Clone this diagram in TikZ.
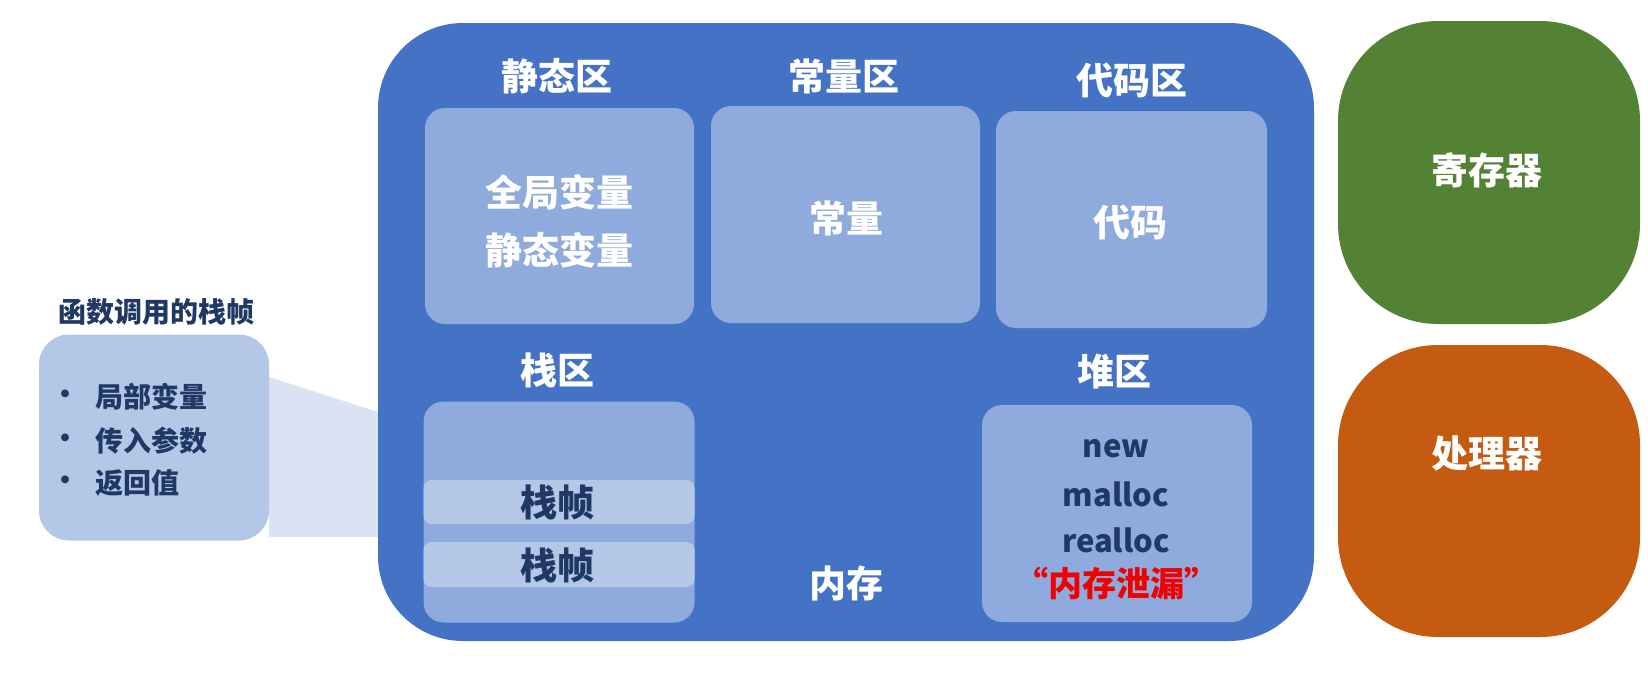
\documentclass[tikz,border=0pt]{standalone}
\usepackage{fontspec}
\setmainfont{Noto Sans CJK SC}
\definecolor{mainblue}{HTML}{4472C4}
\definecolor{subblue}{HTML}{8FAADC}
\definecolor{frameblue}{HTML}{B4C7E7}
\definecolor{wedgeblue}{HTML}{DAE3F3}
\definecolor{navy}{HTML}{1F3864}
\definecolor{reggreen}{HTML}{548235}
\definecolor{procorange}{HTML}{C55A11}
\definecolor{leakred}{HTML}{F00000}
\tikzset{
  subbox/.style={fill=subblue, draw=none, rounded corners=20pt, inner sep=0pt},
  framebox/.style={fill=frameblue, draw=none, rounded corners=8pt, inner sep=0pt},
  bigtxt/.style={text=white, font=\fontsize{37}{58}\selectfont\bfseries, align=center},
  navytxt/.style={text=navy, font=\fontsize{37}{44}\selectfont\bfseries},
  latintxt/.style={text=navy, font=\fontsize{31}{40}\selectfont\bfseries},
  smalltxt/.style={text=navy, font=\fontsize{28}{34}\selectfont\bfseries},
}
\begin{document}
\begin{tikzpicture}[x=1pt,y=-1pt]
\useasboundingbox[fill=white] (0,0) rectangle (1648,678);
% callout wedge
\coordinate (w1) at (269,377);
\coordinate (w2) at (378,412);
\coordinate (w3) at (378,537);
\coordinate (w4) at (269,537);
\fill[wedgeblue] (w1) -- (w2) -- (w3) -- (w4) -- cycle;
% main memory box
\node[fill=mainblue, rounded corners=85pt, minimum width=936pt, minimum height=618pt, inner sep=0pt] (mem) at (846,332) {};
% sub boxes
\node[subbox, minimum width=269pt, minimum height=216pt] (static) at (559.5,216) {};
\node[subbox, minimum width=269pt, minimum height=217pt] (const) at (845.5,214.5) {};
\node[subbox, minimum width=271pt, minimum height=217pt] (code) at (1131.5,219.5) {};
\node[subbox, minimum width=271pt, minimum height=221pt] (stack) at (559,512) {};
\node[framebox, minimum width=271pt, minimum height=44pt] (frameA) at (559,502) {};
\node[framebox, minimum width=271pt, minimum height=45pt] (frameB) at (559,564.5) {};
\node[subbox, minimum width=270pt, minimum height=217pt] (heap) at (1117,513.5) {};
% titles
\node[bigtxt] (tstatic) at (557,76) {静态区};
\node[bigtxt] (tconst) at (844,76) {常量区};
\node[bigtxt] (tcode) at (1132,80) {代码区};
\node[bigtxt] (tstack) at (557,370) {栈区};
\node[bigtxt] (theap) at (1114,372) {堆区};
\node[bigtxt] (tmem) at (846,583) {内存};
% contents
\node[bigtxt] (cstatic) at (559,221) {全局变量\\静态变量};
\node[bigtxt] (cconst) at (846,218) {常量};
\node[bigtxt] (ccode) at (1130,222) {代码};
\node[navytxt] (fA) at (557,502) {栈帧};
\node[navytxt] (fB) at (557,565) {栈帧};
\node[latintxt] (hnew) at (1116,449) {new};
\node[latintxt] (hmalloc) at (1116,494) {malloc};
\node[latintxt] (hrealloc) at (1116,540) {realloc};
\node[text=leakred, font=\fontsize{34}{40}\selectfont\bfseries] (hleak) at (1116,583) {“内存泄漏”};
% right boxes
\node[fill=reggreen, rounded corners=100pt, minimum width=302pt, minimum height=303pt, inner sep=0pt] (reg) at (1489,172.5) {};
\node[bigtxt] (treg) at (1487,170) {寄存器};
\node[fill=procorange, rounded corners=100pt, minimum width=302pt, minimum height=292pt, inner sep=0pt] (proc) at (1489,491) {};
\node[bigtxt] (tproc) at (1487,454) {处理器};
% callout
\node[fill=frameblue, rounded corners=30pt, minimum width=230pt, minimum height=206pt, inner sep=0pt] (call) at (154,437.5) {};
\node[smalltxt] (tcall) at (156,312) {函数调用的栈帧};
\node[smalltxt, anchor=center] (b1) at (65,397) {•};
\node[smalltxt, anchor=center] (b2) at (65,441) {•};
\node[smalltxt, anchor=center] (b3) at (65,483) {•};
\node[smalltxt, anchor=west, inner sep=0pt] (i1) at (95,397) {局部变量};
\node[smalltxt, anchor=west, inner sep=0pt] (i2) at (95,441) {传入参数};
\node[smalltxt, anchor=west, inner sep=0pt] (i3) at (95,483) {返回值};
\end{tikzpicture}
\end{document}
